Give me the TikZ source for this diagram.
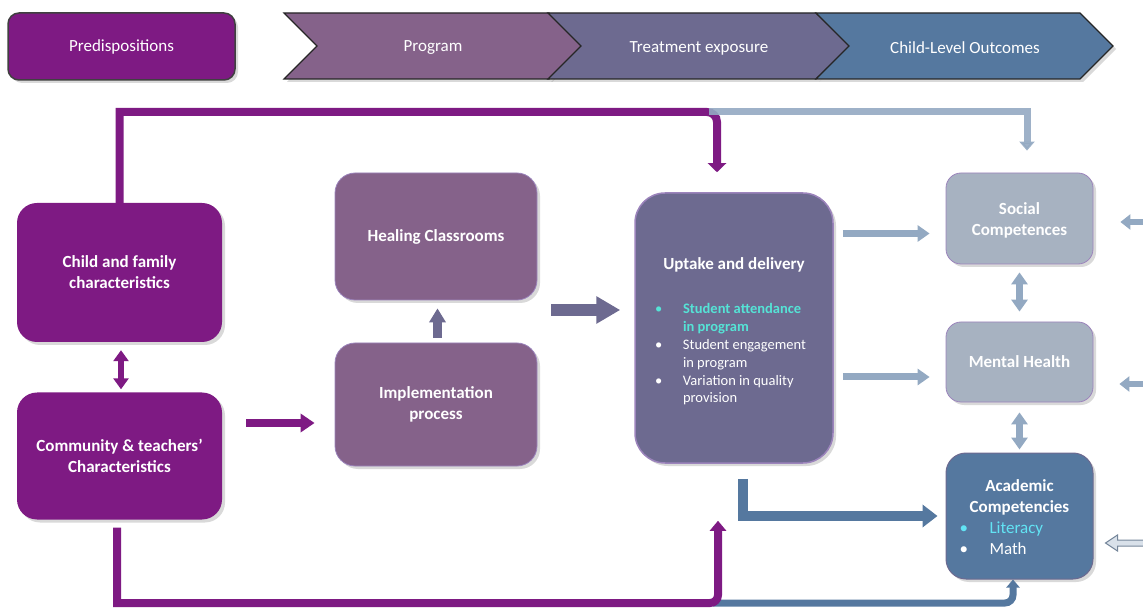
\documentclass[tikz,border=0pt]{standalone}
\usepackage{fontspec}
\setmainfont{Carlito}
\usetikzlibrary{arrows.meta,shadows,calc}
\definecolor{predpurple}{HTML}{7E1A83}
\definecolor{progmauve}{HTML}{85628A}
\definecolor{treatslate}{HTML}{6D6A90}
\definecolor{outblue}{HTML}{55789F}
\definecolor{steel}{HTML}{93A9C2}
\definecolor{softgray}{HTML}{A7B2C1}
\definecolor{lilac}{HTML}{9C84BC}
\definecolor{mint}{HTML}{55E3D6}
\definecolor{aqua}{HTML}{62E4F4}
\begin{document}
\begin{tikzpicture}[x=1pt, y=-1pt,
  boxshadow/.style={drop shadow={shadow xshift=3pt, shadow yshift=-3pt, opacity=0.3}},
  kidbox/.style={boxshadow, fill=predpurple, rounded corners=20pt, text=white, align=center, inner sep=0pt, font=\bfseries\fontsize{17}{21}\selectfont},
  progbox/.style={kidbox, fill=progmauve, draw=lilac, line width=0.8pt},
  uptakebox/.style={kidbox, fill=treatslate, draw=lilac, line width=1.5pt, rounded corners=30pt},
  softbox/.style={kidbox, fill=softgray, draw=lilac, line width=0.8pt, rounded corners=15pt},
  acadbox/.style={kidbox, fill=outblue, draw=treatslate, line width=1pt},
  headbox/.style={boxshadow, fill=predpurple, draw=black!75, line width=1.5pt, rounded corners=11pt, text=white, font=\fontsize{17}{21}\selectfont, minimum width=227pt, minimum height=67pt},
  chevron/.style={draw=black!85, line width=1.2pt, boxshadow},
  headtext/.style={text=white, font=\fontsize{17}{21}\selectfont},
  purplelink/.style={draw=predpurple, line width=8pt},
  steellink/.style={draw=steel, line width=7pt},
  bluelink/.style={draw=outblue, line width=7pt}]
\useasboundingbox (0,0) rectangle (1143,609);
\clip (0,0) rectangle (1143,609);

% header band
\node[headbox] at (121.5,46.5) (predisp) {Predispositions};
\filldraw[chevron, fill=progmauve] (284,13) -- (549,13) -- (582,46) -- (549,79) -- (284,79) -- (317,46) -- cycle;
\filldraw[chevron, fill=treatslate] (548,13) -- (816,13) -- (850,46) -- (816,79) -- (548,79) -- (581,46) -- cycle;
\filldraw[chevron, fill=outblue] (816,13) -- (1080,13) -- (1113,46) -- (1080,79) -- (816,79) -- (849,46) -- cycle;
\node[headtext] at (433,48) (program) {Program};
\node[headtext] at (699,48) (exposure) {Treatment exposure};
\node[headtext] at (965,48) (outcomes) {Child-Level Outcomes};

% predispositions
\node[kidbox, minimum width=205pt, minimum height=139pt] at (119.5,272.5) (child) {Child and family\\characteristics};
\node[kidbox, minimum width=205pt, minimum height=127pt] at (119.5,456) (community) {Community \& teachers'\\Characteristics};

% program
\node[progbox, minimum width=202pt, minimum height=127pt] at (436,236.5) (healing) {Healing Classrooms};
\node[progbox, minimum width=202pt, minimum height=123pt] at (436,404.5) (implementation) {Implementation\\process};

% treatment exposure
\node[uptakebox, minimum width=198pt, minimum height=270pt] at (734,328) (uptake) {\rule{0pt}{22pt}Uptake and delivery\\[23pt]
  {\fontsize{14.5}{17.8}\selectfont\begin{tabular}[t]{@{}p{28pt}@{}p{130pt}@{}}
  \textcolor{mint}{\mdseries\textbullet} & \textcolor{mint}{Student attendance}\\
   & \textcolor{mint}{in program}\\
  \mdseries\textbullet & \mdseries Student engagement\\
   & \mdseries in program\\
  \mdseries\textbullet & \mdseries Variation in quality\\
   & \mdseries provision
  \end{tabular}}};

% outcomes
\node[softbox, minimum width=147pt, minimum height=91pt] at (1019.5,218.5) (social) {\rule{0pt}{15pt}Social\\Competences};
\node[softbox, minimum width=147pt, minimum height=80pt] at (1019.5,362) (mental) {Mental Health};
\node[acadbox, minimum width=147pt, minimum height=126pt] at (1019.5,516) (academic) {\rule{0pt}{20pt}Academic\\Competencies\\
  \begin{tabular}[t]{@{}p{30pt}@{}p{90pt}@{}}
  \mdseries\textcolor{aqua}{\textbullet} & \mdseries\textcolor{aqua}{Literacy}\\
  \mdseries\textbullet & \mdseries Math
  \end{tabular}};

% long links
\coordinate (ptop) at (717,112);
\coordinate (pbot) at (718,603);
\draw[purplelink, -{Triangle[width=18pt,length=9pt]}] (child.north) |- ($(ptop)+(-30,0)$) [rounded corners=10pt] -- (ptop) -- ($(uptake.north)+(-17,-20)$);
\draw[steellink, opacity=0.9, -{Triangle[width=15pt,length=9pt]}] ($(ptop)+(-8,0)$) -| ($(social.north)+(7.5,-22)$);
\draw[bluelink, rounded corners=8pt, -{Triangle[width=13pt,length=8pt]}] ($(pbot)+(-5,0)$) -| ($(academic.south)+(-6.5,0)$);
\draw[purplelink, -{Triangle[width=16pt,length=10pt]}] ($(community.south)+(-2.5,8)$) |- ($(pbot)+(-30,0)$) [rounded corners=8pt] -- (pbot) -- ($(uptake.south)+(-16,57)$);
\draw[outblue, line width=10pt, -{Triangle[width=22pt,length=15pt]}] ($(uptake.south)+(9,15)$) |- ($(academic.west)+(-8,0)$);

% short arrows
\draw[predpurple, line width=8pt, -{Triangle[width=18pt,length=14pt]}] ($(community.east)+(24,-33)$) -- ($(implementation.west)+(-20,18.5)$);
\draw[treatslate, line width=9pt, -{Triangle[width=16pt,length=14pt]}] ($(implementation.north)+(1.5,-5)$) -- ($(healing.south)+(1.5,8)$);
\draw[treatslate, line width=12pt, -{Triangle[width=26pt,length=24pt]}] ($(uptake.west)+(-83,-18)$) -- ($(uptake.west)+(-14,-18)$);
\draw[steellink, -{Triangle[width=16pt,length=12pt]}] ($(uptake.east |- social.west)+(9,15)$) -- ($(social.west)+(-16,15)$);
\draw[steellink, -{Triangle[width=16pt,length=12pt]}] ($(uptake.east |- mental.west)+(9,15)$) -- ($(mental.west)+(-16,15)$);

% two-way arrows
\draw[predpurple, line width=6pt, {Triangle[width=15pt,length=11pt]}-{Triangle[width=15pt,length=11pt]}] ($(child.south)+(1.5,8)$) -- ($(community.north)+(1.5,-3)$);
\draw[steel, line width=7pt, {Triangle[width=16pt,length=12pt]}-{Triangle[width=16pt,length=12pt]}] ($(social.south)+(0,8)$) -- ($(mental.north)+(0,-10)$);
\draw[steel, line width=7pt, {Triangle[width=16pt,length=12pt]}-{Triangle[width=16pt,length=12pt]}] ($(mental.south)+(0,10)$) -- ($(academic.north)+(0,-3)$);

% arrows from the right edge
\coordinate (sin) at (1160,222);
\coordinate (min) at (1160,384);
\draw[steel, line width=6pt, -{Triangle[width=15pt,length=10pt]}] (sin) -- ($(social.east)+(27,3.5)$);
\draw[steel, line width=6pt, -{Triangle[width=15pt,length=10pt]}] (min) -- ($(mental.east)+(26,22)$);
\draw[steel!80!black, line width=1pt, fill=steel!35] ($(academic.east)+(12,27)$) -- ++(12,-8) -- ++(0,5) -- ++(40,0) -- ++(0,6) -- ++(-40,0) -- ++(0,5) -- cycle;

\end{tikzpicture}
\end{document}
